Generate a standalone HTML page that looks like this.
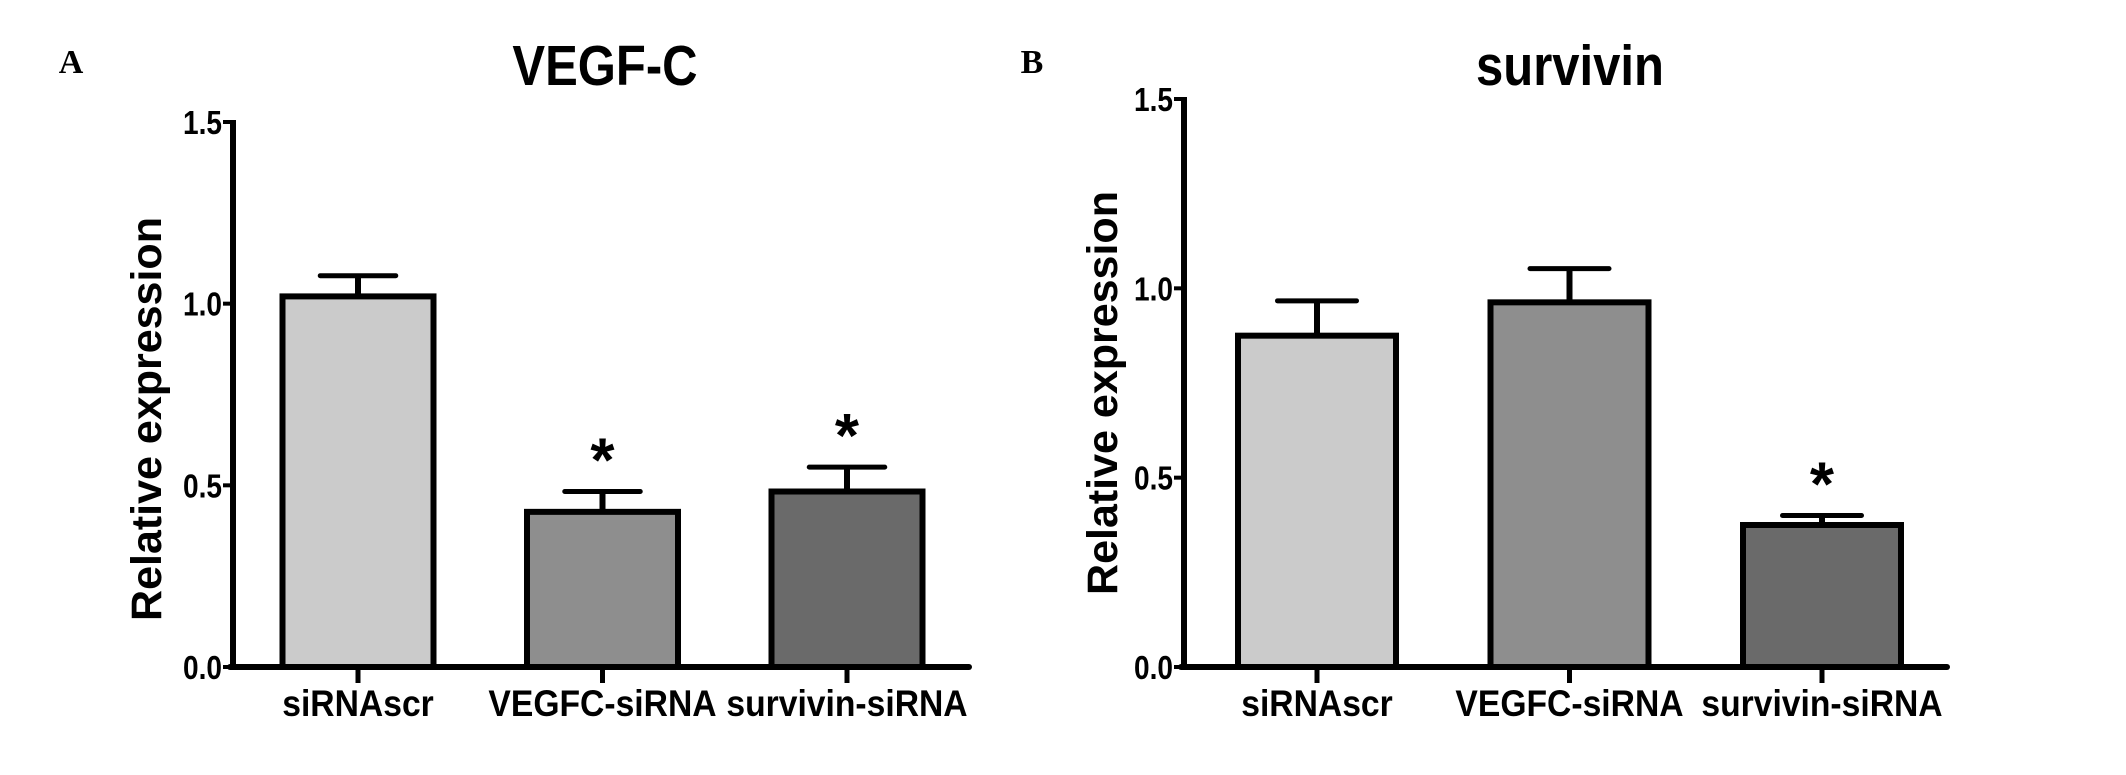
<!DOCTYPE html>
<html><head><meta charset="utf-8"><style>
html,body{margin:0;padding:0;background:#fff;overflow:hidden;}
svg{display:block;}
text{font-family:"Liberation Sans",Arial,sans-serif;font-weight:bold;fill:#000;}
</style></head><body>
<svg id="fig" width="2126" height="775" viewBox="0 0 2126 775" xmlns="http://www.w3.org/2000/svg">
<text x="71" y="73" style="font-family:'Liberation Serif',serif" font-size="34" text-anchor="middle">A</text>
<text x="1032" y="73" style="font-family:'Liberation Serif',serif" font-size="34" text-anchor="middle">B</text>
</svg>
<script>
const categories = ["siRNAscr", "VEGFC-siRNA", "survivin-siRNA"];
const vegfcValues = [1.02, 0.427, 0.483];
const vegfcErrors = [0.057, 0.056, 0.067];
const survivinValues = [0.875, 0.963, 0.375];
const survivinErrors = [0.092, 0.089, 0.025];
const vegfcSig = [false, true, true];
const survivinSig = [false, false, true];
const yTicks = [0.0, 0.5, 1.0, 1.5];
const barFills = ["#cbcbcb", "#8e8e8e", "#6a6a6a"];

const NS = "http://www.w3.org/2000/svg";
const svg = document.getElementById('fig');
function mk(tag, attrs, parent) {
  const e = document.createElementNS(NS, tag);
  for (const k in attrs) e.setAttribute(k, attrs[k]);
  (parent || svg).appendChild(e);
  return e;
}

function panel(p) {
  const g = mk('g', {});
  
  
  const y = v => p.y0 - (v / 1.5) * (p.y0 - p.y15);
  const bw = p.bw;
  const cx = i => p.firstCenter + i * p.gap;

  const t = mk('text', {x: p.titleX, y: 85, 'font-size': 57, 'text-anchor': 'middle', transform: `translate(${p.titleX},0) scale(0.86,1) translate(${-p.titleX},0)`}, g);
  t.textContent = p.title;
  
  

  const yt = mk('text', {x: 0, y: 0, 'font-size': 43, 'text-anchor': 'middle', transform: `translate(${p.ytX},${p.ytY}) rotate(-90)`}, g);
  yt.textContent = 'Relative expression';
  
  

  p.values.forEach((v, i) => {
    const c = cx(i);
    const top = y(v), et = y(v + p.errors[i]);
    const el = mk('line', {x1: c, x2: c, y1: top, y2: et, stroke: '#000', 'stroke-width': 6}, g);
    
    
    const cap = mk('line', {x1: c - bw * 0.25, x2: c + bw * 0.25, y1: et, y2: et, stroke: '#000', 'stroke-width': 5, 'stroke-linecap': 'round'}, g);
    
    
    const r = mk('rect', {x: c - bw / 2, y: top, width: bw, height: p.y0 - top, fill: barFills[i], stroke: '#000', 'stroke-width': 6}, g);
    
    
    if (p.sig[i]) {
      const s = mk('text', {x: c, y: et - 10, 'font-size': 62, 'text-anchor': 'middle'}, g);
      s.textContent = '*';
      
      
    }
    const tk = mk('line', {x1: c, x2: c, y1: p.y0, y2: p.y0 + 16, stroke: '#000', 'stroke-width': 5}, g);
    
    
    const lb = mk('text', {x: c, y: 716, 'font-size': 37, 'text-anchor': 'middle', transform: `translate(${c},0) scale(0.91,1) translate(${-c},0)`}, g);
    lb.textContent = categories[i];
    
    
  });

  const ya = mk('line', {x1: p.xAxis, x2: p.xAxis, y1: p.y15 - 2, y2: p.y0 + 2, stroke: '#000', 'stroke-width': 6}, g);
  
  
  const xa = mk('line', {x1: p.xAxis - 3, x2: p.xEnd, y1: p.y0, y2: p.y0, stroke: '#000', 'stroke-width': 6, 'stroke-linecap': 'round'}, g);
  
  

  yTicks.forEach(v => {
    const yy = y(v);
    const tk = mk('line', {x1: p.xAxis - 10, x2: p.xAxis, y1: yy, y2: yy, stroke: '#000', 'stroke-width': 4}, g);
    
    
    const lx = p.xAxis - 11;
    const l = mk('text', {x: lx, y: yy + 12, 'font-size': 33, 'text-anchor': 'end', transform: `translate(${lx},0) scale(0.85,1) translate(${-lx},0)`}, g);
    l.textContent = v.toFixed(1);
    
    
  });
}

panel({name: 'vegfc-chart', title: 'VEGF-C', titleX: 605, values: vegfcValues, errors: vegfcErrors, sig: vegfcSig,
  xAxis: 233, xEnd: 969, y0: 667, y15: 122, firstCenter: 358, gap: 244.5, bw: 151, ytX: 161, ytY: 419});
panel({name: 'survivin-chart', title: 'survivin', titleX: 1570, values: survivinValues, errors: survivinErrors, sig: survivinSig,
  xAxis: 1184, xEnd: 1947, y0: 667, y15: 99, firstCenter: 1317, gap: 252.5, bw: 158, ytX: 1117, ytY: 393});
</script>
</body></html>
